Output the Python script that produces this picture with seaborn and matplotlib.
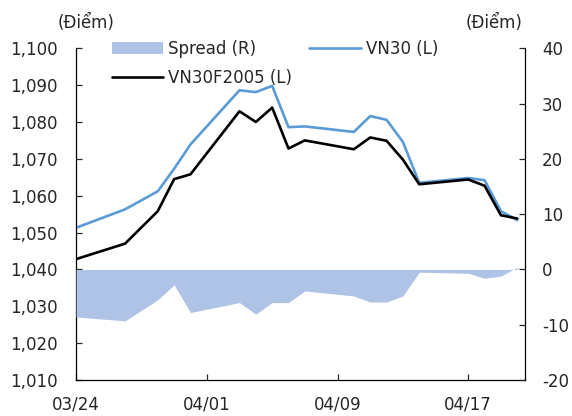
import pandas as pd
import seaborn as sns
import matplotlib.pyplot as plt
import matplotlib.dates as mdates
from matplotlib.ticker import FixedLocator, StrMethodFormatter

sns.set_style("white")
plt.rcParams['font.family'] = ['DejaVu Sans']
plt.rcParams['axes.unicode_minus'] = False

# trading days shown on the chart
dates = ['2017-03-24', '2017-03-27', '2017-03-29', '2017-03-30', '2017-03-31',
         '2017-04-03', '2017-04-04', '2017-04-05', '2017-04-06', '2017-04-07',
         '2017-04-10', '2017-04-11', '2017-04-12', '2017-04-13', '2017-04-14',
         '2017-04-17', '2017-04-18', '2017-04-19', '2017-04-20']
vn30 = [1051.3, 1056.3, 1061.2, 1067.3, 1073.9, 1088.6, 1088.1, 1089.8, 1078.6, 1078.8,
        1077.3, 1081.6, 1080.6, 1074.6, 1063.5, 1064.8, 1064.2, 1055.8, 1053.4]
vn30f = [1042.8, 1047.0, 1055.8, 1064.5, 1065.8, 1082.9, 1080.0, 1083.9, 1072.8, 1075.0,
         1072.6, 1075.8, 1074.9, 1069.8, 1063.1, 1064.4, 1062.7, 1054.7, 1053.8]
spread = [-8.6, -9.3, -5.5, -2.8, -7.8, -6.0, -8.1, -6.0, -6.0, -3.9,
          -4.8, -5.9, -5.9, -4.8, -0.5, -0.7, -1.6, -1.2, 0.4]

x_ticks = ['2017-03-24', '2017-04-01', '2017-04-09', '2017-04-17']
left_ticks = [1010, 1020, 1030, 1040, 1050, 1060, 1070, 1080, 1090, 1100]
right_ticks = [-20, -10, 0, 10, 20, 30, 40]
unit = '(Điểm)'

df = pd.DataFrame({'date': pd.to_datetime(dates), 'VN30 (L)': vn30,
                   'VN30F2005 (L)': vn30f, 'Spread (R)': spread})

fig = plt.figure(figsize=(5.72, 4.16), dpi=100)
ax = fig.add_axes([0.133, 0.0865, 0.785, 0.7975])
ax2 = ax.twinx()

sns.lineplot(data=df, x='date', y='VN30 (L)', ax=ax, color='#5B9BD5', lw=1.9, label='VN30 (L)')
sns.lineplot(data=df, x='date', y='VN30F2005 (L)', ax=ax, color='black', lw=1.9, label='VN30F2005 (L)')
ax2.fill_between(df['date'], 0, df['Spread (R)'], color='#AFC3E6', lw=0, label='Spread (R)')

ax.set_ylim(left_ticks[0], left_ticks[-1])
ax2.set_ylim(right_ticks[0], right_ticks[-1])
ax.set_xlim(pd.Timestamp(dates[0]), pd.Timestamp(dates[-1]) + pd.Timedelta(hours=11.5))
ax.yaxis.set_major_locator(FixedLocator(left_ticks))
ax.yaxis.set_major_formatter(StrMethodFormatter('{x:,.0f}'))
ax2.yaxis.set_major_locator(FixedLocator(right_ticks))
ax.xaxis.set_major_locator(FixedLocator(mdates.date2num(pd.to_datetime(x_ticks))))
ax.xaxis.set_major_formatter(mdates.DateFormatter('%m/%d'))
ax.set_xlabel('')
ax.set_ylabel('')
ax2.set_ylabel('')

for a in (ax, ax2):
    for s in a.spines.values():
        s.set_color('black')
        s.set_linewidth(0.9)
    a.spines['top'].set_visible(False)
ax.spines['right'].set_visible(False)
ax2.spines['left'].set_visible(False)
ax2.spines['bottom'].set_visible(False)

ax.tick_params(axis='y', direction='in', length=4, width=0.9, pad=13, labelsize=12, left=True)
ax.tick_params(axis='x', direction='in', length=4, width=0.9, pad=11, labelsize=12, bottom=True)
ax2.tick_params(axis='y', direction='in', length=4, width=0.9, pad=12, labelsize=12, right=True)

fig.text(0.151, 0.945, unit, ha='center', va='center', fontsize=12)
fig.text(0.864, 0.945, unit, ha='center', va='center', fontsize=12)

if ax.get_legend():
    ax.get_legend().remove()
h1, l1 = ax.get_legend_handles_labels()
h2, l2 = ax2.get_legend_handles_labels()
handles = [h2[0], h1[1], h1[0]]
labels = [l2[0], l1[1], l1[0]]
fig.legend(handles, labels, ncol=2, loc='upper left', bbox_to_anchor=(0.195, 0.905),
           frameon=False, fontsize=12, handlelength=3.1, handletextpad=0.3,
           columnspacing=1.0, labelspacing=0.7, borderpad=0, borderaxespad=0)

fig.savefig('out.png', dpi=100)
